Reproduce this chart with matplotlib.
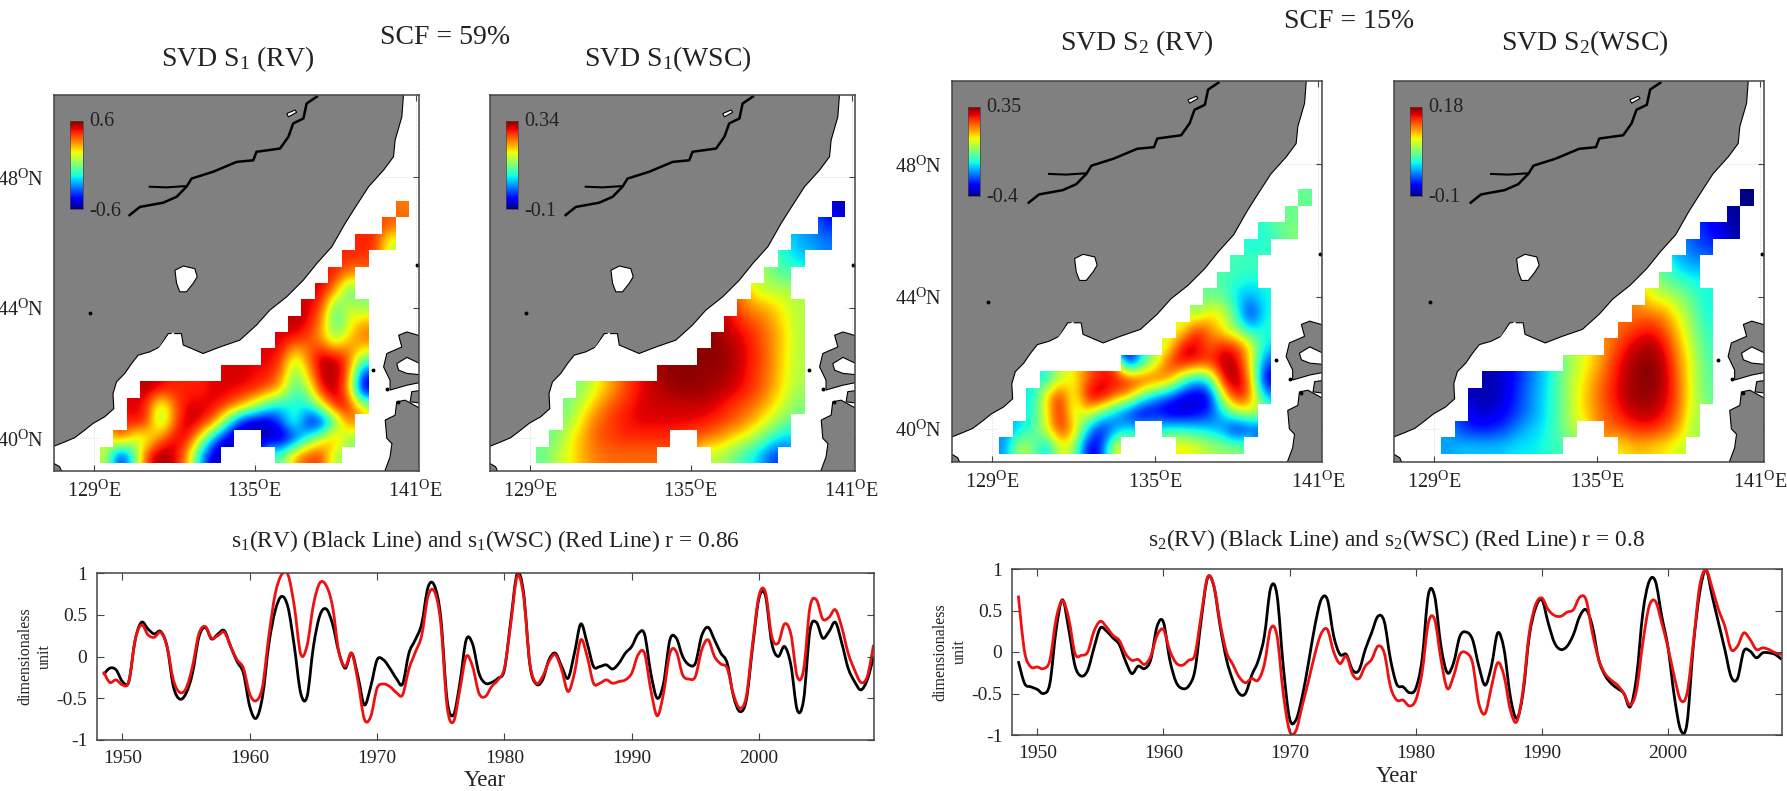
#!/usr/bin/env python3
import matplotlib
matplotlib.use("Agg")
import matplotlib.pyplot as plt
from matplotlib.path import Path
from matplotlib.patches import PathPatch
import numpy as np

plt.rcParams['font.family'] = ['Liberation Serif', 'DejaVu Serif']
plt.rcParams['mathtext.fontset'] = 'custom'
plt.rcParams['mathtext.rm'] = 'Liberation Serif'
plt.rcParams['mathtext.it'] = 'Liberation Serif:italic'
plt.rcParams['mathtext.bf'] = 'Liberation Serif:bold'
plt.rcParams['mathtext.default'] = 'rm'
plt.rcParams['text.color'] = '#222222'
plt.rcParams['xtick.labelcolor'] = '#222222'
plt.rcParams['ytick.labelcolor'] = '#222222'

W, H = 1787, 791

# grid of the fields: 0.5 degree cells, one list per row from south to north
lon_edges = [129.25, 140.75]
lat_edges = [39.25, 47.25]
row_start = [0, 1, 2, 2, 3, 9, 12, 13, 14, 15, 16, 17, 18, 19, 21, 22]
n = np.nan

s1_rv = [
    [.1, -.5, -.1, .45, .58, .52, .3, -.25, -.55, n, n, n, n, -.05, .3, .42, .42, .05],
    [.42, .1, .1, .35, .5, .5, .15, -.3, -.55, n, n, -.55, -.58, -.45, -.1, .15, .35, 0.0],
    [.5, .45, -.02, .35, .55, .5, .35, -.1, -.5, -.58, -.55, -.35, -.02, -.5, -.5, -.1, .35],
    [.5, .45, .02, .35, .5, .5, .5, .42, .3, .12, -.12, -.2, -.15, -.15, .12, .5, .5, .12],
    [.55, .5, .45, .45, .45, .5, .5, .48, .45, .38, .25, -.1, .05, .5, .55, .3, -.55],
    [.5, .52, .48, .48, .35, -.02, .25, .55, .55, .4, -.4],
    [.5, .45, .1, .35, .55, .52, .4, .05],
    [.5, .45, .38, .3, .05, .25, .35],
    [.55, .48, .3, -.1, .12, .3],
    [.5, .42, -.1, .15, .02],
    [.5, .3, -.1],
    [.45, .3],
    [.45, .42],
    [.45, .45, .1],
    [.38],
    [.33],
]
s1_wsc = [
    [.11, .15, .18, .22, .24, .25, .25, .25, .25, n, n, n, n, .15, .12, .08, .05, -.02],
    [.12, .18, .22, .26, .27, .28, .28, .28, .28, n, n, .25, .23, .2, .17, .13, .08, .04],
    [.14, .2, .25, .27, .29, .3, .3, .3, .3, .3, .29, .28, .26, .24, .2, .16, .11],
    [.12, .17, .22, .26, .28, .3, .31, .31, .31, .31, .31, .3, .28, .26, .24, .2, .16, .12],
    [.13, .18, .22, .26, .29, .31, .32, .33, .33, .33, .32, .31, .29, .27, .23, .18, .14],
    [.33, .335, .335, .33, .33, .32, .3, .27, .24, .19, .15],
    [.335, .335, .325, .3, .28, .24, .19, .15],
    [.33, .32, .3, .27, .24, .2, .15],
    [.3, .28, .26, .23, .19, .15],
    [.24, .23, .21, .18, .15],
    [.16, .16, .15],
    [.12, .1],
    [.07, .05],
    [.03, .02, .01],
    [-.03],
    [-.08],
]
s2_rv = [
    [-.2, .05, -.02, -.18, .08, .02, -.33, -.3, .08, n, n, n, n, .1, .07, .02, 0.0, -.02],
    [-.15, -.08, .07, .27, .15, -.15, -.33, -.22, -.13, n, n, -.1, -.1, -.13, -.15, -.22, -.36, -.28],
    [-.1, .07, .3, .02, .1, -.05, -.18, -.3, -.37, -.33, -.37, -.37, -.33, -.28, -.13, .02, .05],
    [-.13, .12, .28, .03, .3, .34, .22, .15, -.05, -.18, -.25, -.33, -.36, -.33, .08, .3, .2, -.17],
    [-.12, .05, .08, .2, .27, .27, .3, .27, .24, .18, -.05, -.18, -.1, .3, .34, .17, -.36],
    [-.36, -.12, .03, .25, .3, .27, .25, .33, .3, .1, -.25],
    [.07, .3, .3, .2, .28, .25, .1, -.14],
    [.07, .27, .18, .07, -.02, -.14, -.1],
    [-.02, .1, .07, -.1, -.32, -.12],
    [-.05, -.05, -.15, -.18, -.12],
    [-.07, -.1, -.12],
    [-.08, -.07],
    [-.12, -.1],
    [-.1, -.05, -.02],
    [-.04],
    [-.05],
]
s2_wsc = [
    [-.02, -.01, -.01, -.01, -.01, 0.0, 0.0, .005, .02, n, n, n, n, .085, .1, .09, .085, .065],
    [-.05, -.06, -.06, -.05, -.03, -.01, 0.0, .02, .06, n, n, .12, .135, .145, .145, .13, .105, .05],
    [-.08, -.08, -.07, -.05, -.03, -.005, .02, .06, .09, .115, .135, .155, .165, .165, .15, .12, .06],
    [-.085, -.09, -.08, -.055, -.03, -.005, .02, .06, .09, .12, .145, .165, .175, .175, .16, .125, .07, .03],
    [-.09, -.08, -.06, -.035, -.01, .02, .06, .085, .115, .14, .165, .175, .178, .165, .12, .07, .03],
    [.05, .075, .1, .135, .16, .175, .178, .16, .115, .07, .025],
    [.12, .15, .165, .17, .15, .105, .06, .02],
    [.125, .145, .15, .13, .09, .05, .015],
    [.115, .12, .105, .075, .04, .005],
    [.07, .07, .05, .025, .005],
    [.025, .02, .005],
    [-.015, -.02],
    [-.04, -.05],
    [-.06, -.075, -.09],
    [-.095],
    [-.1],
]

# land, lon/lat
coast_lon = [127.52, 127.92, 128.29, 128.66, 128.98, 129.41, 129.75, 129.72, 129.85, 130.16, 130.41, 130.66,
             131.09, 131.46, 131.78, 132.27, 132.34, 133.08, 133.71, 134.45, 135.07, 135.57, 136.20, 136.82,
             137.32, 137.88, 138.37, 138.81, 139.25, 139.81, 140.18, 140.24, 140.49, 140.55, 140.55, 127.3, 127.3]
coast_lat = [39.76, 39.89, 40.02, 40.25, 40.46, 40.66, 40.91, 41.37, 41.73, 41.99, 42.29, 42.55,
             42.65, 42.80, 43.21, 43.21, 42.86, 42.60, 42.80, 43.01, 43.47, 43.93, 44.34, 44.85,
             45.36, 45.87, 46.58, 47.15, 47.71, 48.22, 48.63, 49.14, 49.85, 50.52, 50.7, 50.7, 39.76]
isle_a_lon = [141.3, 140.68, 140.37, 140.49, 139.93, 139.81, 140.05, 140.05, 140.68, 141.3]
isle_a_lat = [43.11, 43.26, 43.16, 42.80, 42.60, 42.19, 41.78, 41.48, 41.63, 41.73]
hole_lon = [140.30, 140.68, 141.3, 141.3, 140.68, 140.37]
hole_lat = [42.29, 42.48, 42.24, 41.94, 41.99, 42.09]
isle_b_lon = [141.3, 140.86, 140.80, 141.3]
isle_b_lat = [41.48, 41.43, 41.12, 41.07]
isle_c_lon = [141.3, 140.61, 140.30, 140.24, 139.87, 139.93, 140.12, 140.05, 139.81, 141.3]
isle_c_lat = [40.86, 41.17, 41.12, 40.71, 40.56, 40.00, 39.84, 39.43, 38.9, 38.9]
corner_lon = [127.4, 127.52, 127.73, 127.85, 127.4]
corner_lat = [39.25, 39.23, 39.13, 38.9, 38.9]
lake_lon = [132.03, 132.34, 132.77, 132.86, 132.71, 132.46, 132.21, 132.09]
lake_lat = [45.15, 45.28, 45.20, 44.95, 44.75, 44.49, 44.49, 44.75]
lake2_lon = [136.20, 136.51, 136.57, 136.26]
lake2_lat = [49.95, 50.06, 49.99, 49.85]
river_lon = [130.34, 130.72, 131.59, 132.09, 132.46, 132.65, 133.46, 134.33, 134.95, 135.07, 135.95, 136.26,
             136.44, 136.82, 136.94, 137.32]
river_lat = [46.84, 47.09, 47.22, 47.40, 47.71, 47.96, 48.17, 48.47, 48.52, 48.78, 48.88, 49.24,
             49.65, 49.80, 50.26, 50.47]
branch_lon = [131.09, 131.71, 132.46]
branch_lat = [47.71, 47.69, 47.73]
bay_lon = [131.46, 131.78, 131.96]
bay_lat = [42.75, 43.1, 43.2]
dots_lon = [128.85, 139.43, 141.05, 139.95, 140.35]
dots_lat = [43.83, 42.09, 45.3, 41.5, 41.1]

lon_ticks = [129, 135, 141]
lat_ticks = [40, 44, 48]

# time series, half-yearly from 1948.5
ts1_black = [-.22, -.14, -.16,
             -.3, -.3, .2, .41, .33, .27, .3, .12, -.36, -.51, -.44, -.2, .23, .35, .21, .27, .31, .12, -.06, -.2,
             -.6, -.74, -.48, .15, .55, .72, .59, .12, -.44, -.48, .12, .49, .57, .39, .05, -.14, .04, -.24, -.58, -.36,
             -.04, -.04, -.14, -.26, -.33, .04, .2, .39, .83, .85, .47, -.52, -.7, -.32, .2, .15, -.2, -.32, -.31, -.26,
             -.16, .43, .99, .77, -.1, -.33, -.28, -.04, .04, -.12, -.26, .04, .39, .16, -.12, -.12, -.1, -.15, -.08, .04,
             .12, .27, .27, -.2, -.5, -.32, .2, .22, 0, -.1, -.08, .25, .35, .2, .04, -.08, -.48, -.66, -.52, .12,
             .7, .73, .16, 0, .12, -.1, -.64, -.52, .31, .41, .22, .3, .41, .16, -.14, -.3, -.4, -.28, 0]
ts1_red = [-.18, -.31, -.28,
           -.34, -.3, .2, .38, .26, .23, .29, .12, -.28, -.43, -.38, -.12, .27, .36, .22, .25, .29, .12, -.04, -.14,
           -.45, -.53, -.36, .25, .75, .98, .98, .6, .03, .13, .62, .88, .85, .6, .05, -.12, .04, -.3, -.75, -.72,
           -.38, -.33, -.36, -.43, -.46, -.15, .05, .25, .72, .78, .4, -.6, -.78, -.4, 0, -.12, -.44, -.48, -.36, -.28,
           -.14, .39, .96, .73, -.08, -.32, -.24, -.06, .02, -.16, -.42, -.2, .2, 0, -.32, -.32, -.28, -.32, -.3, -.28,
           -.2, .02, .04, -.4, -.71, -.44, .04, .06, -.22, -.27, -.24, .08, .2, 0, -.09, -.14, -.46, -.62, -.48, .16,
           .73, .77, .24, .16, .39, .27, -.24, -.16, .59, .68, .45, .47, .56, .35, .04, -.16, -.31, -.24, .14]
ts2_black = [-.11, -.38, -.42,
             -.45, -.5, -.38, .27, .63, .27, -.17, -.29, -.22, .05, .29, .25, .17, .09, -.11, -.26, -.17, -.2, -.09, .31,
             .36, -.09, -.36, -.44, -.41, -.22, .39, .89, .79, .31, -.09, -.34, -.5, -.5, -.28, -.11, .19, .77, .69, -.17,
             -.8, -.82, -.54, -.13, .31, .63, .63, .19, -.03, -.03, -.22, -.22, .03, .23, .43, .37, -.09, -.39, -.42, -.49,
             -.44, -.09, .69, .67, .07, -.25, -.13, .19, .24, .15, -.17, -.4, -.17, .23, .03, -.54, -.8, -.5, .19, .53,
             .63, .35, .11, .03, .07, .21, .43, .51, .31, -.09, -.28, -.38, -.44, -.5, -.66, -.3, .47, .85, .85, .43,
             .05, -.54, -.94, -.86, .07, .71, .99, .67, .35, .03, -.3, -.32, .01, .01, -.07, -.01, -.01, -.03, -.09]
ts2_red = [.68, 0, -.18,
           -.18, -.2, -.1, .4, .62, .4, -.02, -.04, 0, .25, .37, .3, .2, .14, -.02, -.1, -.09, -.15, -.05, .2,
           .27, .02, -.13, -.16, -.1, -.03, .45, .9, .8, .35, 0, -.15, -.3, -.37, -.32, -.34, -.15, .28, .2, -.5,
           -.95, -.95, -.65, -.35, -.03, .22, .27, 0, -.14, -.05, -.27, -.32, -.17, -.09, .07, -.01, -.42, -.58, -.58, -.65,
           -.58, -.25, .35, .39, -.09, -.44, -.29, -.03, -.01, -.13, -.62, -.74, -.42, -.13, -.29, -.7, -.84, -.46, .23, .57,
           .65, .51, .44, .43, .48, .51, .66, .63, .23, -.09, -.26, -.34, -.4, -.5, -.64, -.46, .11, .55, .61, .35,
           .05, -.3, -.58, -.5, .11, .79, .99, .77, .51, .31, .03, .07, .23, .15, .03, .05, .03, -.01, -.03]
years = 1948.5 + 0.5 * np.arange(len(ts1_black))
year_ticks = [1950, 1960, 1970, 1980, 1990, 2000]
y_ticks = [-1, -0.5, 0, 0.5, 1]
y_labels = ['-1', '-0.5', '0', '0.5', '1']


def box(l, t, r, b):
    return [l / W, 1 - b / H, (r - l) / W, (b - t) / H]


def txt(x, y, s, size, ha='center', **kw):
    fig.text(x / W, 1 - y / H, s, fontsize=size, ha=ha, va='center', **kw)


def make_grid(rows):
    grid = np.full((16, 23), np.nan)
    for i, r in enumerate(rows):
        grid[i, row_start[i]:row_start[i] + len(r)] = r
    return grid


def fill_land(grid):
    # nearest ocean value outside the mask so the interpolation has no holes
    jj, ii = np.where(~np.isnan(grid))
    out = grid.copy()
    for j, i in zip(*np.where(np.isnan(grid))):
        k = np.argmin((jj - j) ** 2 + (ii - i) ** 2)
        out[j, i] = grid[jj[k], ii[k]]
    return out


def draw_map(rect, rows, vmin, vmax, cbar, labels, lat_labels):
    ax = fig.add_axes(box(*rect))
    grid = make_grid(rows)
    extent = [lon_edges[0], lon_edges[1], lat_edges[0], lat_edges[1]]
    im = ax.imshow(fill_land(grid), origin='lower', extent=extent, aspect='auto', cmap='jet',
                   vmin=vmin, vmax=vmax, interpolation='bicubic', interpolation_stage='data', zorder=1)
    cover = np.zeros(grid.shape + (4,))
    cover[..., :3] = 1
    cover[..., 3] = np.isnan(grid)
    ax.imshow(cover, origin='lower', extent=extent, aspect='auto', interpolation='nearest', zorder=2)

    for lo, la in [(coast_lon, coast_lat), (isle_a_lon, isle_a_lat), (isle_b_lon, isle_b_lat),
                   (isle_c_lon, isle_c_lat), (corner_lon, corner_lat)]:
        ax.fill(lo, la, facecolor='#808080', edgecolor='black', lw=0.8, zorder=3)
    for lo, la in [(hole_lon, hole_lat), (lake_lon, lake_lat), (lake2_lon, lake2_lat)]:
        ax.fill(lo, la, facecolor='white', edgecolor='black', lw=0.8, zorder=4)
    ax.plot(river_lon, river_lat, color='black', lw=1.8, zorder=4)
    ax.plot(branch_lon, branch_lat, color='black', lw=1.5, zorder=4)
    ax.plot(bay_lon, bay_lat, color='white', lw=1.5, zorder=4)
    ax.plot(dots_lon, dots_lat, ls='none', marker='o', ms=1.8, color='black', zorder=4)

    ax.set_xlim(127.52, 141.13)
    ax.set_ylim(39.0, 50.52)
    ax.set_xticks(lon_ticks)
    ax.set_xticklabels(['%d$^{O}$E' % v for v in lon_ticks], fontsize=14.5)
    ax.set_yticks(lat_ticks)
    if lat_labels:
        ax.set_yticklabels(['%d$^{O}$N' % v for v in lat_ticks], fontsize=14.5)
    else:
        ax.set_yticklabels([])
    ax.tick_params(direction='in', top=True, right=True, length=4, width=0.8, color='#444444', pad=7)
    ax.grid(color='#d8d8d8', ls=':', lw=0.7)
    ax.set_axisbelow(True)
    for s in ax.spines.values():
        s.set_color('#444444')
        s.set_linewidth(1.1)
        s.set_zorder(6)

    cax = fig.add_axes(box(*cbar))
    fig.colorbar(im, cax=cax)
    cax.set_yticks([])
    cax.minorticks_off()
    for s in cax.spines.values():
        s.set_linewidth(0.5)
        s.set_color('#444444')
    txt(cbar[2] + 6, cbar[1] + 1, labels[0], 14.5, ha='left')
    txt(cbar[2] + 6, cbar[3] + 2, labels[1], 14.5, ha='left')


def smooth_line(ax, x, y, color):
    # bezier segments through the read points, the line is smooth in the original
    p = np.column_stack([x, y])
    q = np.vstack([p[0], p, p[-1]])
    verts = [p[0]]
    codes = [Path.MOVETO]
    for i in range(1, len(q) - 2):
        verts += [q[i] + (q[i + 1] - q[i - 1]) / 6, q[i + 1] - (q[i + 2] - q[i]) / 6, q[i + 1]]
        codes += [Path.CURVE4] * 3
    ax.add_patch(PathPatch(Path(verts, codes), fill=False, edgecolor=color, lw=2.0, joinstyle='round'))


def draw_ts(rect, black, red, ylab_x):
    ax = fig.add_axes(box(*rect))
    smooth_line(ax, years, black, 'black')
    smooth_line(ax, years, red, '#ee1111')
    ax.set_xlim(1948, 2009.03)
    ax.set_ylim(-1, 1)
    ax.set_xticks(year_ticks)
    ax.set_yticks(y_ticks)
    ax.set_yticklabels(y_labels)
    ax.tick_params(direction='in', top=True, right=True, length=5, width=0.8, color='#444444', labelsize=14, pad=7)
    for s in ax.spines.values():
        s.set_color('#444444')
        s.set_linewidth(1.1)
    mid = (rect[1] + rect[3]) / 2
    txt(ylab_x, mid, 'dimensionaless', 11.5, rotation=90)
    txt(ylab_x + 20, mid, 'unit', 11.5, rotation=90)


fig = plt.figure(figsize=(W / 100, H / 100), dpi=100)

draw_map((54, 95, 419, 471), s1_rv, -0.6, 0.6, (70, 121, 83, 209), ('0.6', '-0.6'), True)
draw_map((490, 95, 855, 471), s1_wsc, -0.1, 0.34, (506, 121, 518, 209), ('0.34', '-0.1'), False)
draw_map((952, 81, 1322, 462), s2_rv, -0.4, 0.35, (968, 107, 980, 196), ('0.35', '-0.4'), True)
draw_map((1394, 81, 1764, 462), s2_wsc, -0.1, 0.18, (1410, 107, 1422, 196), ('0.18', '-0.1'), False)

draw_ts((97, 573, 874, 740), ts1_black, ts1_red, 25)
draw_ts((1012, 569, 1782, 735), ts2_black, ts2_red, 940)

txt(238, 59, 'SVD S$_{1}$ (RV)', 20)
txt(445, 37, 'SCF = 59%', 20)
txt(668, 59, 'SVD S$_{1}$(WSC)', 20)
txt(1137, 43, 'SVD S$_{2}$ (RV)', 20)
txt(1349, 22, 'SCF = 15%', 20)
txt(1585, 43, 'SVD S$_{2}$(WSC)', 20)
txt(485, 541, 's$_{1}$(RV) (Black Line) and s$_{1}$(WSC) (Red Line) r = 0.86', 16.8)
txt(1396, 540, 's$_{2}$(RV) (Black Line) and s$_{2}$(WSC) (Red Line) r = 0.8', 16.8)
txt(485, 781, 'Year', 16.5)
txt(1397, 777, 'Year', 16.5)

fig.savefig('out.png', dpi=100)
